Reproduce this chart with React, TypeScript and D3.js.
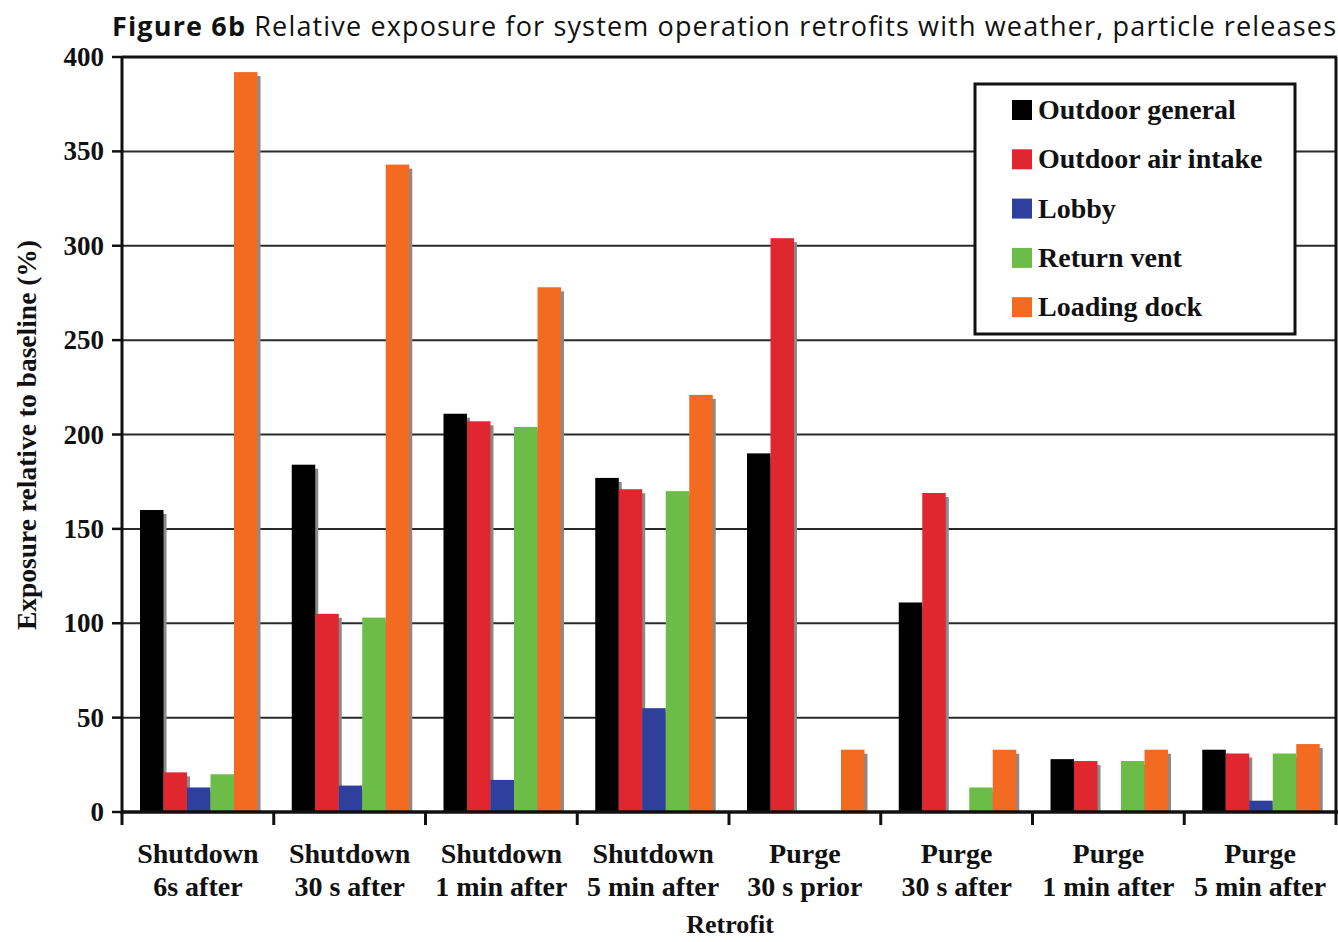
import React from "react";
import * as d3 from "d3";

const categoriesLine1 = ["Shutdown", "Shutdown", "Shutdown", "Shutdown", "Purge", "Purge", "Purge", "Purge"];
const categoriesLine2 = ["6s after", "30 s after", "1 min after", "5 min after", "30 s prior", "30 s after", "1 min after", "5 min after"];

const seriesNames = ["Outdoor general", "Outdoor air intake", "Lobby", "Return vent", "Loading dock"];
const seriesColors = ["#000000", "#e0262e", "#2f3f9e", "#6cbd48", "#f26b21"];

const outdoorGeneral = [160, 184, 211, 177, 190, 111, 28, 33];
const outdoorAirIntake = [21, 105, 207, 171, 304, 169, 27, 31];
const lobby = [13, 14, 17, 55, 0, 0, 0, 6];
const returnVent = [20, 103, 204, 170, 0, 13, 27, 31];
const loadingDock = [392, 343, 278, 221, 33, 33, 33, 36];

const seriesValues = [outdoorGeneral, outdoorAirIntake, lobby, returnVent, loadingDock];
const yTicks = [0, 50, 100, 150, 200, 250, 300, 350, 400];

const W = 1338;
const H = 942;
const left = 122;
const right = 1336;
const top = 57;
const bottom = 812;

export default function App() {
  const idx = categoriesLine1.map((_, i) => String(i));
  const x = d3.scaleBand<string>().domain(idx).range([left, right]).padding(0);
  const inner = d3
    .scaleBand<string>()
    .domain(seriesNames)
    .range([18, 18 + 117.5])
    .padding(0);
  const y = d3.scaleLinear().domain([0, 400]).range([bottom, top]);
  const serif = "'Liberation Serif', 'Times New Roman', serif";
  const bw = inner.bandwidth();

  return (
    <svg
      width={W}
      height={H}
      style={{ position: "absolute", left: 0, top: 0, background: "#fff" }}
      fontFamily={serif}
    >
      <rect x={0} y={0} width={W} height={H} fill="#fff" />
      {/* title */}
      <text
        x={112}
        y={36}
        fontFamily="'Open Sans', 'Noto Sans', sans-serif"
        fontSize={27}
        fill="#111"
        textLength={1224}
        lengthAdjust="spacing"
      >
        <tspan fontWeight="bold">Figure 6b</tspan>
        <tspan> Relative exposure for system operation retrofits with weather, particle releases</tspan>
      </text>

      {/* gridlines */}
      {yTicks.filter((t) => t > 0 && t < 400).map((t) => (
        <line key={t} x1={left} x2={right} y1={y(t)} y2={y(t)} stroke="#2a2a2a" strokeWidth={2} />
      ))}
      {/* frame top & right */}
      <line x1={left} x2={right + 1} y1={y(400)} y2={y(400)} stroke="#111" strokeWidth={3} />
      <line x1={right} x2={right} y1={y(400)} y2={bottom} stroke="#111" strokeWidth={3} />

      {/* bars */}
      {seriesNames.map((s, si) => (
        <g key={s}>
          {seriesValues[si].map((v, ci) => {
            if (v <= 0) return null;
            const bx = (x(String(ci)) as number) + (inner(s) as number);
            const by = y(v);
            return (
              <g key={ci}>
                <rect x={bx + 3} y={by + 4} width={bw} height={bottom - by - 4} fill="#8a8a8a" />
                <rect x={bx} y={by} width={bw} height={bottom - by} fill={seriesColors[si]} />
              </g>
            );
          })}
        </g>
      ))}

      {/* legend */}
      <rect x={975} y={84} width={320} height={250} fill="#fff" stroke="#111" strokeWidth={3} />
      {seriesNames.map((s, i) => (
        <g key={s} transform={`translate(1012, ${110 + i * 49.3})`}>
          <rect x={0} y={-10} width={20} height={20} fill={seriesColors[i]} />
          <text x={26} y={9} fontSize={28} fontWeight="bold" fill="#111">
            {s}
          </text>
        </g>
      ))}

      {/* y axis */}
      <line x1={left} x2={left} y1={top - 1} y2={bottom + 2} stroke="#111" strokeWidth={3} />
      {yTicks.map((t) => (
        <g key={t}>
          <line x1={112} x2={left} y1={y(t)} y2={y(t)} stroke="#111" strokeWidth={2.5} />
          <text x={104} y={y(t) + 9} fontSize={27} fontWeight="bold" textAnchor="end" fill="#111">
            {t}
          </text>
        </g>
      ))}
      <text
        transform={`translate(36, ${435}) rotate(-90)`}
        fontSize={27.5}
        fontWeight="bold"
        textAnchor="middle"
        fill="#111"
      >
        Exposure relative to baseline (%)
      </text>

      {/* x axis */}
      <line x1={left - 1} x2={right + 2} y1={bottom} y2={bottom} stroke="#111" strokeWidth={3.5} />
      {d3.range(idx.length + 1).map((i) => {
        const xx = i < idx.length ? (x(String(i)) as number) : right;
        return <line key={i} x1={xx} x2={xx} y1={bottom} y2={bottom + 13} stroke="#111" strokeWidth={3} />;
      })}
      {idx.map((k, i) => {
        const cx = (x(k) as number) + x.bandwidth() / 2;
        return (
          <g key={k}>
            <text x={cx} y={863} fontSize={28} fontWeight="bold" textAnchor="middle" fill="#111">
              {categoriesLine1[i]}
            </text>
            <text x={cx} y={896} fontSize={28} fontWeight="bold" textAnchor="middle" fill="#111">
              {categoriesLine2[i]}
            </text>
          </g>
        );
      })}
      <text x={730} y={933} fontSize={26} fontWeight="bold" textAnchor="middle" fill="#111">
        Retrofit
      </text>
    </svg>
  );
}
